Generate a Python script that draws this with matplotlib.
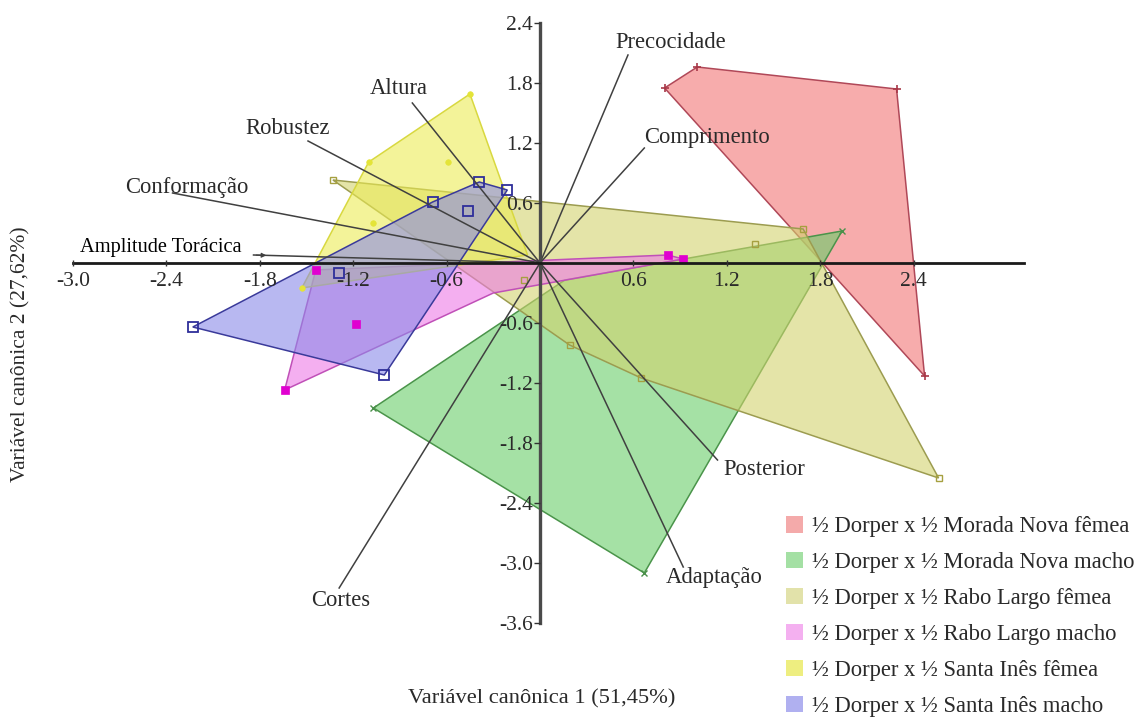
import matplotlib
matplotlib.use("Agg")
import matplotlib.pyplot as plt
from matplotlib.patches import Polygon, Patch

plt.rcParams['font.family'] = ['Liberation Serif', 'DejaVu Serif']

# ---------------- data ----------------
groups = ["½ Dorper x ½ Morada Nova fêmea",
          "½ Dorper x ½ Morada Nova macho",
          "½ Dorper x ½ Rabo Largo fêmea",
          "½ Dorper x ½ Rabo Largo macho",
          "½ Dorper x ½ Santa Inês fêmea",
          "½ Dorper x ½ Santa Inês macho"]

# convex-hull vertices (canonical 1, canonical 2)
hull_mn_f = [(0.80, 1.75), (1.01, 1.96), (2.29, 1.74), (2.47, -1.13)]
hull_mn_m = [(-1.07, -1.45), (0.16, -0.17), (1.94, 0.32), (0.67, -3.10)]
hull_rl_f = [(-1.33, 0.83), (1.69, 0.34), (2.56, -2.15), (0.65, -1.15), (0.19, -0.82)]
hull_rl_m = [(-1.44, -0.07), (0.82, 0.08), (0.92, 0.04), (-0.30, -0.30), (-1.64, -1.27)]
hull_si_f = [(-0.45, 1.69), (-1.10, 1.01), (-1.53, -0.25), (-0.08, 0.08)]
hull_si_m = [(-2.23, -0.64), (-0.69, 0.61), (-0.39, 0.81), (-0.21, 0.73), (-1.00, -1.12)]

# individual scores (markers)
pts_mn_f = [(0.80, 1.75), (1.01, 1.96), (2.29, 1.74), (2.47, -1.13)]
pts_mn_m = [(-1.07, -1.45), (1.94, 0.32), (0.67, -3.10)]
pts_rl_f = [(-1.33, 0.83), (1.69, 0.34), (2.56, -2.15), (0.65, -1.15), (0.19, -0.82),
            (1.38, 0.19), (-0.10, -0.17)]
pts_rl_m = [(-1.44, -0.07), (0.82, 0.08), (0.92, 0.04), (-1.64, -1.27), (-1.18, -0.61)]
pts_si_f = [(-0.45, 1.69), (-1.10, 1.01), (-1.53, -0.25), (-0.59, 1.01), (-1.07, 0.40)]
pts_si_m = [(-2.23, -0.64), (-0.69, 0.61), (-0.39, 0.81), (-0.21, 0.73), (-1.00, -1.12),
            (-0.46, 0.52), (-1.29, -0.10)]

# variable vectors (end points)
var_names = ["Amplitude Torácica", "Conformação", "Robustez", "Altura", "Precocidade",
             "Comprimento", "Posterior", "Adaptação", "Cortes"]
var_x = [-1.84, -2.36, -1.49, -0.82, 0.565, 0.67, 1.14, 0.92, -1.29]
var_y = [0.08, 0.70, 1.22, 1.60, 2.08, 1.15, -1.97, -3.04, -3.25]

x_ticks = [-3.0, -2.4, -1.8, -1.2, -0.6, 0.6, 1.2, 1.8, 2.4]
y_ticks = [2.4, 1.8, 1.2, 0.6, -0.6, -1.2, -1.8, -2.4, -3.0, -3.6]
x_label = "Variável canônica 1 (51,45%)"
y_label = "Variável canônica 2 (27,62%)"

# ---------------- styles ----------------
fill_cols = ["#f27575", "#69cd69", "#d2d26e", "#ee7ae6", "#ebeb55", "#8a8ae8"]
edge_cols = ["#b04858", "#4a944a", "#9c9c50", "#c050b8", "#d8d840", "#3a3a9a"]
legend_cols = ["#f4aaaa", "#a4e0a4", "#e2e2aa", "#f4b0f0", "#eeee80", "#b0b0f0"]
marker_style = [
    dict(marker='+', ms=6, mew=1.2, color='#a83848', mfc='none'),
    dict(marker='x', ms=5, mew=1.0, color='#4a904a', mfc='none'),
    dict(marker='s', ms=5, mew=1.0, color='#a6a040', mfc='none'),
    dict(marker='s', ms=6, mew=0.5, color='#e000d0', mfc='#e000d0'),
    dict(marker='o', ms=4, mew=0.5, color='#e4e438', mfc='#e4e438'),
    dict(marker='s', ms=7, mew=1.3, color='#2e2e9a', mfc='none'),
]
label_pos = [(-1.915, 0.15, 'right'), (-2.27, 0.76, 'center'), (-1.62, 1.35, 'center'),
             (-0.91, 1.74, 'center'), (0.84, 2.21, 'center'), (1.07, 1.26, 'center'),
             (1.44, -2.07, 'center'), (1.12, -3.14, 'center'), (-1.28, -3.37, 'center')]

W, H = 1138, 720
x0, y0, sx, sy = 540, 263, 155.7, 100.0

fig = plt.figure(figsize=(W / 100, H / 100), dpi=100)
ax = fig.add_axes([0, 0, 1, 1])
ax.set_xlim(-x0 / sx, (W - x0) / sx)
ax.set_ylim((y0 - H) / sy, y0 / sy)

hulls = [hull_mn_f, hull_mn_m, hull_rl_f, hull_rl_m, hull_si_f, hull_si_m]
pts = [pts_mn_f, pts_mn_m, pts_rl_f, pts_rl_m, pts_si_f, pts_si_m]
for i, (h, p) in enumerate(zip(hulls, pts)):
    ax.add_patch(Polygon(h, closed=True, facecolor=fill_cols[i], alpha=0.6,
                         edgecolor='none', zorder=2 + i * 0.1))
    ax.add_patch(Polygon(h, closed=True, facecolor='none', edgecolor=edge_cols[i],
                         lw=1.1, zorder=2.05 + i * 0.1))
    ax.plot([q[0] for q in p], [q[1] for q in p], ls='none', zorder=3.5,
            **marker_style[i])

# variable vectors
for name, vx, vy, (tx, ty, ha) in zip(var_names, var_x, var_y, label_pos):
    ax.plot([0, vx], [0, vy], color='#404040', lw=1.1, zorder=4)
    fs = 14.7 if name == "Amplitude Torácica" else 16.3
    col = '#000000' if name == "Amplitude Torácica" else '#2a2a2a'
    ax.text(tx, ty, name, ha=ha, va='center', fontsize=fs, color=col, zorder=5)
ax.annotate("", xy=(-1.74, 0.075), xytext=(-1.84, 0.08),
            arrowprops=dict(arrowstyle='-|>', color='#404040', lw=0.8,
                            mutation_scale=7), zorder=4)

# axes through origin
for s in ['top', 'right']:
    ax.spines[s].set_visible(False)
ax.spines['left'].set_position(('data', 0))
ax.spines['bottom'].set_position(('data', 0))
ax.spines['left'].set_bounds(-3.6, 2.4)
ax.spines['bottom'].set_bounds(-3.0, 3.11)
ax.spines['left'].set_linewidth(2.4)
ax.spines['left'].set_color('#4a4a4a')
ax.spines['bottom'].set_linewidth(2.0)
ax.spines['bottom'].set_color('#1a1a1a')
ax.spines['left'].set_zorder(6)
ax.spines['bottom'].set_zorder(6)
ax.xaxis.set_zorder(7)
ax.yaxis.set_zorder(7)
ax.set_xticks(x_ticks)
ax.set_yticks(y_ticks)
ax.set_xticklabels([f"{v:.1f}" for v in x_ticks])
ax.set_yticklabels([f"{v:.1f}" for v in y_ticks])
ax.tick_params(axis='x', direction='inout', length=5, width=1.0, colors='#333333',
               labelsize=15.5, pad=4)
ax.tick_params(axis='y', direction='out', length=4, width=1.0, colors='#333333',
               labelsize=15.5, pad=1)
for t in ax.get_xticklabels() + ax.get_yticklabels():
    t.set_color('#2a2a2a')

fig.text(542 / W, 1 - 699 / H, x_label, ha='center', va='center', fontsize=16.2,
         color='#2a2a2a')
fig.text(21 / W, 1 - 354 / H, y_label, ha='center', va='center', rotation=90,
         fontsize=15.5, color='#2a2a2a')

handles = [Patch(facecolor=c, edgecolor='none') for c in legend_cols]
leg = fig.legend(handles, groups, loc='upper left',
                 bbox_to_anchor=(786 / W, 1 - 516 / H), frameon=False,
                 fontsize=16.3, handlelength=0.75, handleheight=0.75,
                 handletextpad=0.4, labelspacing=0.65, borderpad=0,
                 borderaxespad=0)
for t in leg.get_texts():
    t.set_color('#2a2a2a')

fig.savefig("out.png", dpi=100)
